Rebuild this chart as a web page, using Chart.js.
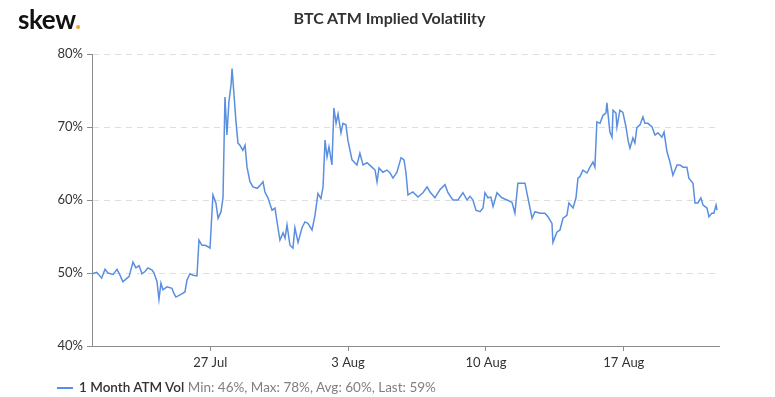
<!DOCTYPE html>
<html>
<head>
<meta charset="utf-8">
<script src="https://cdn.jsdelivr.net/npm/chart.js@4.4.1/dist/chart.umd.min.js"></script>
<style>
  body { margin: 0; background: #fff; font-family: Lato, "Open Sans", sans-serif; }
  #wrap { position: relative; width: 775px; height: 397px; }
  #logo { position: absolute; left: 18px; top: 3px; font-size: 26px; font-weight: 700; color: #111; letter-spacing: -0.4px; }
  #logo span { color: #f2a93b; }
  #titulo { position: absolute; left: 2px; width: 775px; top: 8px; text-align: center; font-size: 16px; font-weight: 700; color: #333; }
  #legenda { position: absolute; left: 57px; top: 379px; font-size: 13.5px; color: #333; white-space: nowrap; }
  #legenda i { display: inline-block; width: 16px; height: 2px; background: #5a8fe0; vertical-align: middle; margin-right: 6px; margin-top: -2px; }
  #legenda b { font-weight: 600; }
  #legenda span { color: #808080; }
</style>
</head>
<body>
<div id="wrap">
  <canvas id="grafico" width="775" height="397"></canvas>
  <div id="logo">skew<span>.</span></div>
  <div id="titulo">BTC ATM Implied Volatility</div>
  <div id="legenda"><i></i><b>1 Month ATM Vol</b> <span>Min: 46%, Max: 78%, Avg: 60%, Last: 59%</span></div>
</div>
<script>
// days since 21 Jul 00:00
const dias = [
  0, 0.24, 0.49, 0.66, 0.81, 1.07, 1.27, 1.42, 1.57, 1.78, 1.88, 2.08, 2.23, 2.39, 2.54, 2.69, 2.84, 3.05, 3.15, 3.30,
  3.40, 3.50, 3.60, 3.81, 4.06, 4.16, 4.26, 4.47, 4.72, 4.82, 4.97, 5.13, 5.33, 5.43, 5.58, 5.74, 5.89, 5.99, 6.14, 6.29,
  6.40, 6.55, 6.65, 6.75, 6.85, 6.95, 7.06, 7.11, 7.16, 7.31, 7.41, 7.51, 7.66, 7.77, 7.87, 8.02, 8.17, 8.38, 8.53, 8.68,
  8.78, 8.93, 9.14, 9.29, 9.44, 9.54, 9.70, 9.80, 9.90, 10.05, 10.20, 10.30, 10.46, 10.66, 10.81, 10.96, 11.17, 11.32, 11.47, 11.62,
  11.73, 11.83, 11.93, 12.03, 12.18, 12.28, 12.39, 12.49, 12.64, 12.74, 12.89, 12.99, 13.20, 13.45, 13.60, 13.76, 13.96, 14.21, 14.37, 14.47,
  14.57, 14.77, 14.97, 15.13, 15.28, 15.48, 15.69, 15.84, 15.94, 16.04, 16.29, 16.55, 16.80, 17.01, 17.16, 17.41, 17.66, 17.92, 18.07, 18.32,
  18.58, 18.83, 19.04, 19.19, 19.34, 19.49, 19.70, 19.85, 19.95, 20.10, 20.25, 20.36, 20.56, 20.81, 21.07, 21.32, 21.47, 21.62, 21.83, 21.98,
  22.13, 22.34, 22.49, 22.74, 22.99, 23.15, 23.35, 23.40, 23.60, 23.76, 23.91, 24.11, 24.21, 24.42, 24.57, 24.67, 24.77, 24.92, 25.13, 25.28,
  25.43, 25.53, 25.63, 25.79, 25.94, 26.09, 26.14, 26.29, 26.40, 26.45, 26.60, 26.65, 26.80, 26.95, 27.11, 27.21, 27.31, 27.46, 27.56, 27.66,
  27.82, 27.97, 28.07, 28.22, 28.43, 28.58, 28.73, 28.93, 29.04, 29.19, 29.34, 29.49, 29.70, 29.85, 30.00, 30.20, 30.30, 30.51, 30.61, 30.76,
  30.91, 31.02, 31.22, 31.32, 31.47, 31.57, 31.68, 31.73
];
const vol1m = [
  49.9, 50.1, 49.3, 50.5, 50.0, 49.8, 50.5, 49.7, 48.8, 49.3, 49.5, 51.5, 50.7, 51.0, 49.9, 50.2, 50.7, 50.4, 50.0, 48.8,
  46.4, 48.6, 47.7, 48.1, 47.9, 47.2, 46.7, 47.0, 47.4, 49.0, 49.9, 49.7, 49.6, 54.5, 53.8, 53.8, 53.6, 53.4, 60.7, 59.6,
  57.5, 58.4, 60.3, 74.1, 68.9, 73.4, 75.8, 78.0, 76.2, 70.7, 67.8, 67.5, 66.8, 67.5, 64.5, 62.5, 61.8, 61.6, 62.0, 62.5,
  61.1, 60.3, 58.6, 58.9, 56.2, 54.5, 55.5, 54.8, 56.6, 53.8, 53.4, 56.2, 54.2, 56.2, 57.0, 56.8, 55.9, 57.9, 60.9, 60.2,
  61.8, 68.2, 65.9, 67.3, 64.8, 72.6, 70.5, 71.8, 69.2, 70.5, 70.3, 68.2, 65.5, 64.8, 66.4, 64.8, 65.1, 64.5, 64.1, 62.5,
  64.4, 63.8, 64.1, 63.7, 63.0, 63.8, 65.8, 65.5, 63.7, 60.7, 61.1, 60.4, 61.0, 61.8, 61.1, 60.3, 61.4, 62.1, 61.0, 60.0,
  60.0, 61.0, 60.0, 60.5, 60.0, 58.6, 58.4, 58.9, 61.0, 60.3, 60.4, 59.1, 61.0, 60.3, 60.0, 59.7, 58.2, 62.3, 62.3, 62.3,
  60.3, 57.5, 58.4, 58.2, 58.2, 57.7, 56.8, 54.2, 55.6, 55.9, 57.5, 57.9, 59.6, 58.9, 60.3, 63.0, 63.2, 64.1, 63.7, 64.5,
  65.2, 64.5, 70.7, 70.5, 71.6, 71.9, 73.3, 69.3, 68.6, 72.3, 71.9, 70.0, 72.3, 72.0, 70.0, 68.2, 67.1, 68.5, 67.8, 69.9,
  70.3, 71.4, 70.5, 70.5, 70.0, 68.9, 69.2, 68.6, 69.3, 66.6, 65.2, 63.4, 64.8, 64.8, 64.5, 64.5, 63.0, 62.3, 59.6, 59.6,
  60.3, 59.3, 58.9, 57.7, 58.2, 58.2, 59.3, 58.6
];

const diasTicks = [6, 13, 20, 27];
const rotulosTicks = ['27 Jul', '3 Aug', '10 Aug', '17 Aug'];

const COR_LINHA = '#5a8fe0';
const COR_EIXO = '#8c8c8c';

function criarGrafico(canvasID) {
    return new Chart(document.getElementById(canvasID), {
        type: 'line',
        data: {
            datasets: [{
                label: '1 Month ATM Vol',
                data: dias.map((d, i) => ({ x: d, y: vol1m[i] })),
                borderColor: COR_LINHA,
                borderWidth: 1.5,
                pointRadius: 0,
                tension: 0,
                fill: false
            }]
        },
        options: {
            responsive: false,
            animation: false,
            layout: { padding: { top: 54, right: 56, left: 0, bottom: 0 } },
            plugins: { legend: { display: false }, tooltip: { enabled: false } },
            scales: {
                x: {
                    type: 'linear',
                    min: 0,
                    max: 31.83,
                    afterFit: (s) => { s.height = 51; },
                    afterBuildTicks: (s) => { s.ticks = diasTicks.map((v) => ({ value: v })); },
                    ticks: {
                        autoSkip: false,
                        maxRotation: 0,
                        padding: 4,
                        color: '#333',
                        font: { family: 'Lato', size: 13 },
                        callback: (v) => rotulosTicks[diasTicks.indexOf(v)]
                    },
                    grid: { drawOnChartArea: false, drawTicks: true, tickLength: 5, tickColor: COR_EIXO },
                    border: { display: true, color: COR_EIXO, width: 1 }
                },
                y: {
                    min: 40,
                    max: 80,
                    afterFit: (s) => { s.width = 92; },
                    ticks: {
                        stepSize: 10,
                        padding: 4,
                        color: '#333',
                        font: { family: 'Lato', size: 13 },
                        callback: (v) => v + '%'
                    },
                    grid: {
                        color: '#dedede',
                        lineWidth: 1,
                        drawTicks: true,
                        tickLength: 5,
                        tickColor: COR_EIXO,
                        tickBorderDash: []
                    },
                    border: { display: true, color: COR_EIXO, width: 1, dash: [6, 5] }
                }
            }
        }
    });
}

const __grafico = criarGrafico('grafico');
</script>
</body>
</html>
